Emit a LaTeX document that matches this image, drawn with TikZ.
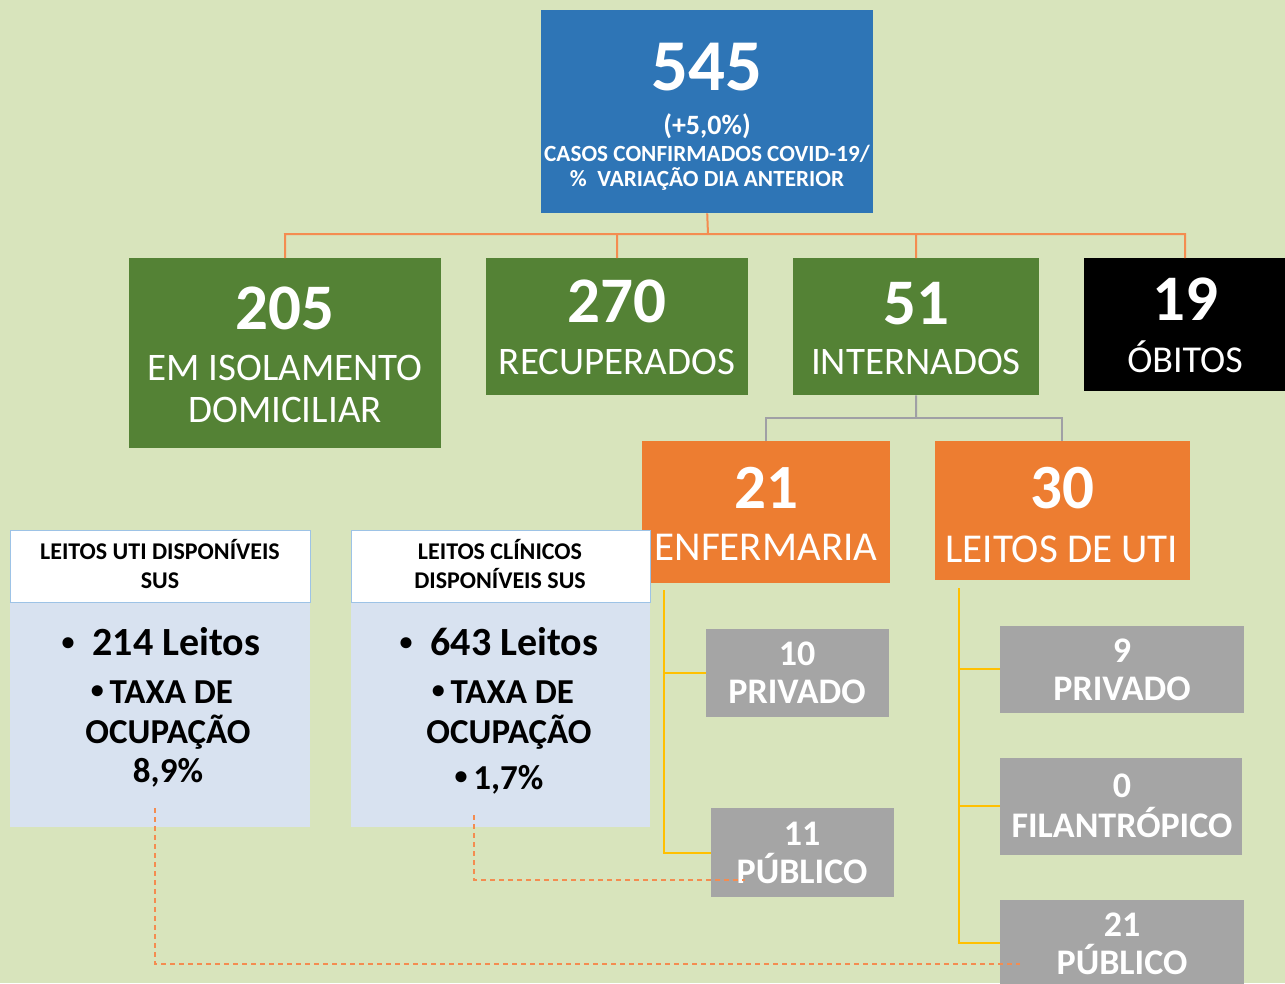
\documentclass[tikz,border=0pt]{standalone}
\usepackage{fontspec}
\setmainfont{Carlito}
\definecolor{bg}{RGB}{216,228,188}
\definecolor{bluebox}{RGB}{46,117,182}
\definecolor{greenbox}{RGB}{84,130,53}
\definecolor{orangebox}{RGB}{237,125,49}
\definecolor{graybox}{RGB}{165,165,165}
\definecolor{panelbody}{RGB}{216,226,240}
\definecolor{panelborder}{RGB}{157,195,230}
\definecolor{yline}{RGB}{255,192,0}
\definecolor{oline}{RGB}{244,140,80}
\definecolor{gline}{RGB}{160,160,165}
\newcommand{\fs}[1]{\fontsize{#1}{#1}\selectfont\ignorespaces}
\newcommand{\smbul}{\raisebox{0.12em}{\fontsize{26}{26}\selectfont\textbullet}}
\tikzset{
  boxnode/.style={draw=none, inner sep=0pt, anchor=north west},
  txt/.style={inner sep=0pt, text=white, anchor=base},
  dtxt/.style={inner sep=0pt, text=black, anchor=base},
  orangeconn/.style={draw=oline, line width=2pt},
  grayconn/.style={draw=gline, line width=2pt},
  yellowconn/.style={draw=yline, line width=2pt},
  dashconn/.style={draw=oline, line width=1.5pt, dash pattern=on 5pt off 4pt},
}
\begin{document}
\begin{tikzpicture}[x=1pt,y=-1pt]
\useasboundingbox (0,0) rectangle (1285,983);
\fill[bg] (0,0) rectangle (1285,983);

% top box
\node[boxnode, fill=bluebox, minimum width=332pt, minimum height=203pt] (top) at (541,10) {};
\node[txt] (t1) at (707,90) {\fs{73}\bfseries 545};
\node[txt] (t2) at (707,134) {\fs{28}\bfseries (+5,0\%)};
\node[txt] (t3) at (707,161) {\fs{23.2}\bfseries CASOS CONFIRMADOS COVID-19/};
\node[txt] (t4) at (707,186) {\fs{23.2}\bfseries \%\ \ VARIAÇÃO DIA ANTERIOR};

% level 2 boxes
\node[boxnode, fill=greenbox, minimum width=312pt, minimum height=190pt] (iso) at (129,258) {};
\node[txt] (iso1) at (285,329) {\fs{65}\bfseries 205};
\node[txt] (iso2) at (285,380) {\fs{39} EM ISOLAMENTO};
\node[txt] (iso3) at (285,422) {\fs{39} DOMICILIAR};

\node[boxnode, fill=greenbox, minimum width=262pt, minimum height=137pt] (rec) at (486,258) {};
\node[txt] (rec1) at (617,322) {\fs{65}\bfseries 270};
\node[txt] (rec2) at (617,374) {\fs{39} RECUPERADOS};

\node[boxnode, fill=greenbox, minimum width=246pt, minimum height=137pt] (int) at (793,258) {};
\node[txt] (int1) at (916,324) {\fs{65}\bfseries 51};
\node[txt] (int2) at (916,374) {\fs{39} INTERNADOS};

\node[boxnode, fill=black, minimum width=205pt, minimum height=133pt] (obi) at (1084,258) {};
\node[txt] (obi1) at (1185,320) {\fs{65}\bfseries 19};
\node[txt] (obi2) at (1185,372) {\fs{38} ÓBITOS};

% orange connectors
\coordinate (hub) at (708,234);
\draw[orangeconn] (top.south) -- (hub);
\draw[orangeconn] (iso.north) -- (285,234) -- (1185,234) -- (1185,258);
\draw[orangeconn] (rec.north) -- (617,234);
\draw[orangeconn] (int.north) -- (916,234);

% level 3 boxes
\node[boxnode, fill=orangebox, minimum width=248pt, minimum height=142pt] (enf) at (642,441) {};
\node[txt] (enf1) at (766,508) {\fs{63}\bfseries 21};
\node[txt] (enf2) at (766,560) {\fs{41} ENFERMARIA};

\node[boxnode, fill=orangebox, minimum width=255pt, minimum height=139pt] (uti) at (935,441) {};
\node[txt] (uti1) at (1062,508) {\fs{63}\bfseries 30};
\node[txt] (uti2) at (1062,562) {\fs{41} LEITOS DE UTI};

% gray connectors
\draw[grayconn] (int.south) -- (916,418);
\draw[grayconn] (766,441) -- (766,418) -- (1062,418) -- (1062,441);

% gray boxes
\node[boxnode, fill=graybox, minimum width=183pt, minimum height=88pt] (ep) at (706,629) {};
\node[txt] (ep1) at (797,665) {\fs{36}\bfseries 10};
\node[txt] (ep2) at (797,703) {\fs{36}\bfseries PRIVADO};

\node[boxnode, fill=graybox, minimum width=183pt, minimum height=89pt] (epu) at (711,808) {};
\node[txt] (epu1) at (802,845) {\fs{36}\bfseries 11};
\node[txt] (epu2) at (802,883) {\fs{36}\bfseries PÚBLICO};

\node[boxnode, fill=graybox, minimum width=244pt, minimum height=87pt] (up) at (1000,626) {};
\node[txt] (up1) at (1122,662) {\fs{36}\bfseries 9};
\node[txt] (up2) at (1122,700) {\fs{36}\bfseries PRIVADO};

\node[boxnode, fill=graybox, minimum width=242pt, minimum height=97pt] (uf) at (1000,758) {};
\node[txt] (uf1) at (1122,797) {\fs{36}\bfseries 0};
\node[txt] (uf2) at (1122,837) {\fs{36}\bfseries FILANTRÓPICO};

\node[boxnode, fill=graybox, minimum width=244pt, minimum height=90pt] (upu) at (1000,900) {};
\node[txt] (upu1) at (1122,936) {\fs{36}\bfseries 21};
\node[txt] (upu2) at (1122,974) {\fs{36}\bfseries PÚBLICO};

% yellow connectors
\draw[yellowconn] (664,590) -- (664,853) -- (epu.west |- 0,853);
\draw[yellowconn] (664,673) -- (ep.west |- 0,673);
\draw[yellowconn] (959,588) -- (959,943) -- (upu.west |- 0,943);
\draw[yellowconn] (959,669) -- (up.west |- 0,669);
\draw[yellowconn] (959,806) -- (uf.west |- 0,806);

% left panels
\node[boxnode, fill=panelbody, minimum width=300pt, minimum height=297pt] (p1) at (10,530) {};
\node[boxnode, fill=white, draw=panelborder, line width=1pt, minimum width=300pt, minimum height=72pt] (h1) at (10,530) {};
\node[dtxt] (h1a) at (160,559) {\fs{24}\bfseries LEITOS UTI DISPONÍVEIS};
\node[dtxt] (h1b) at (160,588) {\fs{24}\bfseries SUS};
\node[dtxt] (b1a) at (161,655) {\fs{40}\bfseries \smbul\ \ 214 Leitos};
\node[dtxt] (b1b) at (162,703) {\fs{35}\bfseries \smbul\,TAXA DE};
\node[dtxt] (b1c) at (168,743) {\fs{35}\bfseries OCUPAÇÃO};
\node[dtxt] (b1d) at (168,782) {\fs{35}\bfseries 8,9\%};

\node[boxnode, fill=panelbody, minimum width=299pt, minimum height=297pt] (p2) at (351,530) {};
\node[boxnode, fill=white, draw=panelborder, line width=1pt, minimum width=299pt, minimum height=72pt] (h2) at (351,530) {};
\node[dtxt] (h2a) at (500,559) {\fs{24}\bfseries LEITOS CLÍNICOS};
\node[dtxt] (h2b) at (500,588) {\fs{24}\bfseries DISPONÍVEIS SUS};
\node[dtxt] (b2a) at (499,655) {\fs{40}\bfseries \smbul\ \ 643 Leitos};
\node[dtxt] (b2b) at (503,703) {\fs{35}\bfseries \smbul\,TAXA DE};
\node[dtxt] (b2c) at (509,743) {\fs{35}\bfseries OCUPAÇÃO};
\node[dtxt] (b2d) at (499,789) {\fs{35}\bfseries \smbul\,1,7\%};

% dashed connectors
\coordinate (d1s) at (155,808);
\coordinate (d1e) at (1020,964);
\coordinate (d2s) at (474,815);
\coordinate (d2e) at (745,880);
\draw[dashconn] (d1s) -- (d1s |- d1e) -- (d1e);
\draw[dashconn] (d2s) -- (d2s |- d2e) -- (d2e);
\end{tikzpicture}
\end{document}
